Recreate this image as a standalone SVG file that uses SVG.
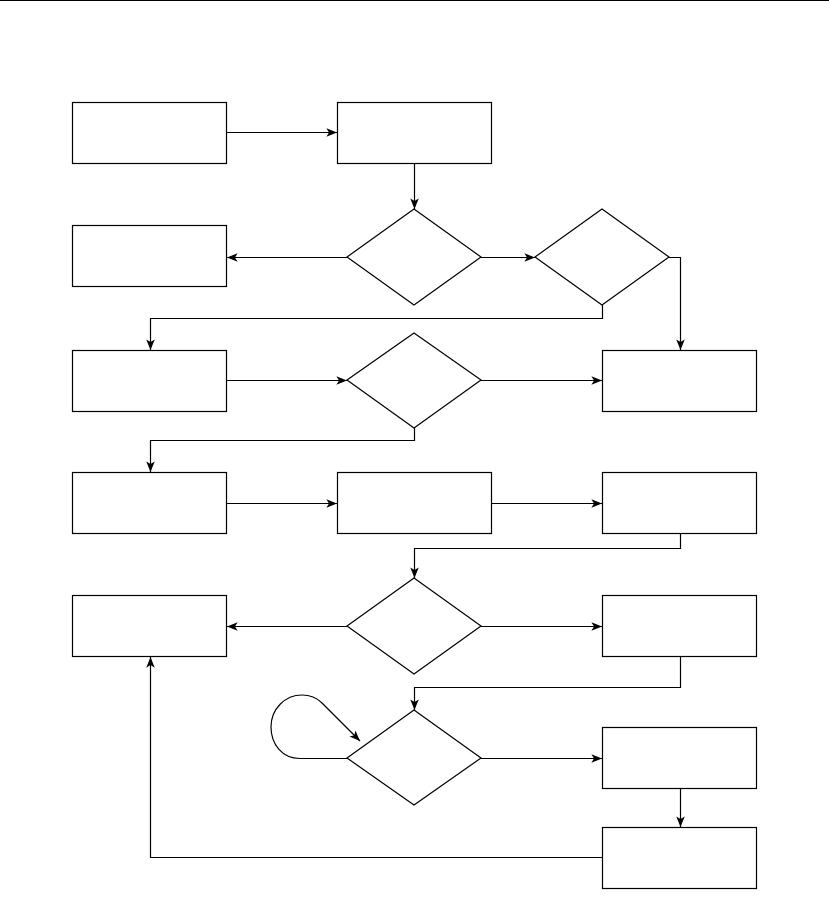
<svg xmlns="http://www.w3.org/2000/svg" width="829" height="912" viewBox="0 0 829 912">
<style>
.n{fill:#fff;stroke:#000;stroke-width:1.2}
.c{fill:none;stroke:#000;stroke-width:1.2;marker-end:url(#a)}
</style>
<defs>
<marker id="a" viewBox="0 0 10 8" refX="10" refY="4" markerWidth="11" markerHeight="8.5" markerUnits="userSpaceOnUse" orient="auto">
<path d="M0,0 L10,4 L0,8 L2.5,4 Z" fill="#000"/>
</marker>
</defs>
<rect width="829" height="912" fill="#fff"/>
<line x1="0" y1="0.5" x2="829" y2="0.5" stroke="#000" stroke-width="1.2"/>
<g id="n1"><rect class="n" x="72.5" y="102.5" width="154" height="61"/></g>
<g id="n2"><rect class="n" x="337.5" y="102.5" width="154" height="61"/></g>
<g id="n3"><polygon class="n" points="414,209 481,257 414,305 347,257"/></g>
<g id="n4"><polygon class="n" points="602,209 669,257 602,305 535,257"/></g>
<g id="n5"><rect class="n" x="72.5" y="225.5" width="154" height="61"/></g>
<g id="n6"><rect class="n" x="72.5" y="350.5" width="154" height="61"/></g>
<g id="n7"><polygon class="n" points="414,333 481,380 414,428 347,380"/></g>
<g id="n8"><rect class="n" x="602.5" y="350.5" width="154" height="61"/></g>
<g id="n9"><rect class="n" x="72.5" y="472.5" width="154" height="61"/></g>
<g id="n10"><rect class="n" x="337.5" y="472.5" width="154" height="61"/></g>
<g id="n11"><rect class="n" x="602.5" y="472.5" width="154" height="61"/></g>
<g id="n12"><polygon class="n" points="414,578 481,626 414,674 347,626"/></g>
<g id="n13"><rect class="n" x="72.5" y="595.5" width="154" height="61"/></g>
<g id="n14"><rect class="n" x="602.5" y="595.5" width="154" height="61"/></g>
<g id="n15"><polygon class="n" points="414,710 481,758 414,805 347,758"/></g>
<g id="n16"><rect class="n" x="602.5" y="727.5" width="154" height="61"/></g>
<g id="n17"><rect class="n" x="602.5" y="827.5" width="154" height="61"/></g>
<g id="connectors">
<path class="c" d="M227,132.5 H337"/>
<path class="c" d="M414.5,163.5 V209"/>
<path class="c" d="M347,257.5 H227"/>
<path class="c" d="M481,257.5 H535"/>
<path class="c" d="M669,257.5 H680.5 V350"/>
<path class="c" d="M602.5,305 V318.5 H150.5 V350"/>
<path class="c" d="M227,380.5 H347"/>
<path class="c" d="M481,380.5 H602"/>
<path class="c" d="M414.5,428 V440.5 H150.5 V472"/>
<path class="c" d="M227,503.5 H337"/>
<path class="c" d="M492,503.5 H602"/>
<path class="c" d="M680.5,534 V548.5 H414.5 V578"/>
<path class="c" d="M347,626.5 H227"/>
<path class="c" d="M481,626.5 H602"/>
<path class="c" d="M680.5,657 V687.5 H414.5 V710"/>
<path class="c" d="M481,758.5 H602"/>
<path class="c" d="M680.5,789 V827"/>
<path class="c" d="M602,857.5 H150.5 V657"/>
<path class="c" d="M347,758.5 L300,758.5 C282,758.5 271,744 271,727 C271,709 285,695 302,695 C310,695 317,698 322,703 L360,741"/>
</g>
</svg>
